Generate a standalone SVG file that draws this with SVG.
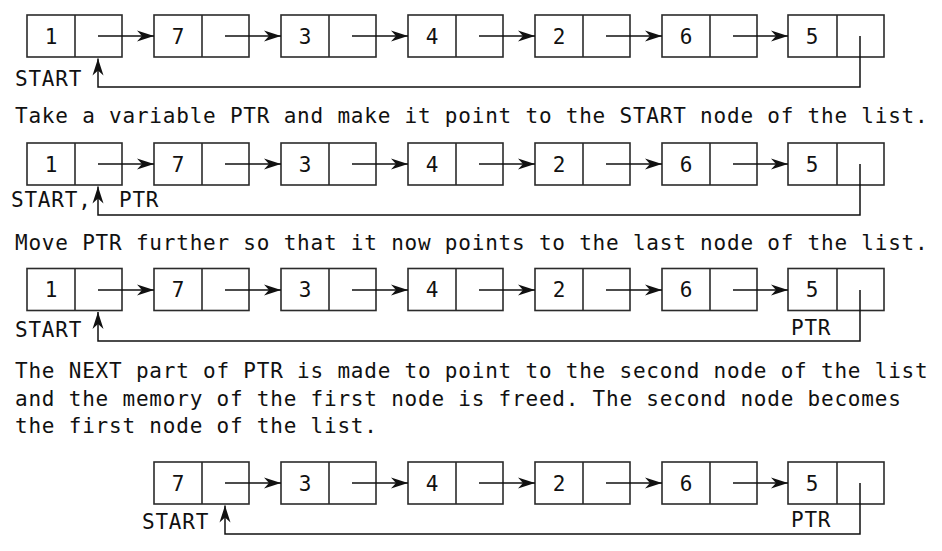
<svg xmlns="http://www.w3.org/2000/svg" width="942" height="551" viewBox="0 0 942 551">
<style>
  .bg{fill:#ffffff}
  .cell{fill:#ffffff;stroke:#2b2b2b;stroke-width:1.6}
  .div{stroke:#2b2b2b;stroke-width:1.6}
  .t{font-family:"DejaVu Sans Mono","Liberation Mono",monospace;font-size:21px;letter-spacing:0.79px;fill:#111}
  .d{font-family:"DejaVu Sans Mono","Liberation Mono",monospace;font-size:21px;fill:#111;text-anchor:middle}
  .c{fill:none;stroke:#111;stroke-width:1.5}
</style>
<defs>
  <marker id="ah" viewBox="-18 -7 19 14" refX="0" refY="0" markerWidth="19" markerHeight="14" orient="auto" markerUnits="userSpaceOnUse">
    <path d="M0,0 L-17,-5.5 L-12,0 L-17,5.5 Z" fill="#111"/>
  </marker>
</defs>
<rect class="bg" x="0" y="0" width="942" height="551"/>

<!-- Row 1 -->
<g id="r1n1"><rect class="cell" x="27" y="15" width="95" height="42"/><line class="div" x1="75" y1="15" x2="75" y2="57"/><text class="d" x="51" y="43.5">1</text></g>
<g id="r1n2"><rect class="cell" x="154" y="15" width="95" height="42"/><line class="div" x1="202" y1="15" x2="202" y2="57"/><text class="d" x="178" y="43.5">7</text></g>
<g id="r1n3"><rect class="cell" x="281" y="15" width="95" height="42"/><line class="div" x1="329" y1="15" x2="329" y2="57"/><text class="d" x="305" y="43.5">3</text></g>
<g id="r1n4"><rect class="cell" x="408" y="15" width="95" height="42"/><line class="div" x1="456" y1="15" x2="456" y2="57"/><text class="d" x="432" y="43.5">4</text></g>
<g id="r1n5"><rect class="cell" x="535" y="15" width="95" height="42"/><line class="div" x1="583" y1="15" x2="583" y2="57"/><text class="d" x="559" y="43.5">2</text></g>
<g id="r1n6"><rect class="cell" x="662" y="15" width="95" height="42"/><line class="div" x1="710" y1="15" x2="710" y2="57"/><text class="d" x="686" y="43.5">6</text></g>
<g id="r1n7"><rect class="cell" x="788" y="15" width="96" height="42"/><line class="div" x1="837" y1="15" x2="837" y2="57"/><text class="d" x="812" y="43.5">5</text></g>
<text class="t" x="15" y="86">START</text>
<text class="t" x="15" y="122.5">Take a variable PTR and make it point to the START node of the list.</text>

<!-- Row 2 -->
<g id="r2n1"><rect class="cell" x="27" y="143" width="95" height="42"/><line class="div" x1="75" y1="143" x2="75" y2="185"/><text class="d" x="51" y="171.5">1</text></g>
<g id="r2n2"><rect class="cell" x="154" y="143" width="95" height="42"/><line class="div" x1="202" y1="143" x2="202" y2="185"/><text class="d" x="178" y="171.5">7</text></g>
<g id="r2n3"><rect class="cell" x="281" y="143" width="95" height="42"/><line class="div" x1="329" y1="143" x2="329" y2="185"/><text class="d" x="305" y="171.5">3</text></g>
<g id="r2n4"><rect class="cell" x="408" y="143" width="95" height="42"/><line class="div" x1="456" y1="143" x2="456" y2="185"/><text class="d" x="432" y="171.5">4</text></g>
<g id="r2n5"><rect class="cell" x="535" y="143" width="95" height="42"/><line class="div" x1="583" y1="143" x2="583" y2="185"/><text class="d" x="559" y="171.5">2</text></g>
<g id="r2n6"><rect class="cell" x="662" y="143" width="95" height="42"/><line class="div" x1="710" y1="143" x2="710" y2="185"/><text class="d" x="686" y="171.5">6</text></g>
<g id="r2n7"><rect class="cell" x="788" y="143" width="96" height="42"/><line class="div" x1="837" y1="143" x2="837" y2="185"/><text class="d" x="812" y="171.5">5</text></g>
<text class="t" x="11" y="206.5">START,</text>
<text class="t" x="119" y="206.5">PTR</text>
<text class="t" x="15" y="249.5">Move PTR further so that it now points to the last node of the list.</text>

<!-- Row 3 -->
<g id="r3n1"><rect class="cell" x="27" y="268.5" width="95" height="42"/><line class="div" x1="75" y1="268.5" x2="75" y2="310.5"/><text class="d" x="51" y="297">1</text></g>
<g id="r3n2"><rect class="cell" x="154" y="268.5" width="95" height="42"/><line class="div" x1="202" y1="268.5" x2="202" y2="310.5"/><text class="d" x="178" y="297">7</text></g>
<g id="r3n3"><rect class="cell" x="281" y="268.5" width="95" height="42"/><line class="div" x1="329" y1="268.5" x2="329" y2="310.5"/><text class="d" x="305" y="297">3</text></g>
<g id="r3n4"><rect class="cell" x="408" y="268.5" width="95" height="42"/><line class="div" x1="456" y1="268.5" x2="456" y2="310.5"/><text class="d" x="432" y="297">4</text></g>
<g id="r3n5"><rect class="cell" x="535" y="268.5" width="95" height="42"/><line class="div" x1="583" y1="268.5" x2="583" y2="310.5"/><text class="d" x="559" y="297">2</text></g>
<g id="r3n6"><rect class="cell" x="662" y="268.5" width="95" height="42"/><line class="div" x1="710" y1="268.5" x2="710" y2="310.5"/><text class="d" x="686" y="297">6</text></g>
<g id="r3n7"><rect class="cell" x="788" y="268.5" width="96" height="42"/><line class="div" x1="837" y1="268.5" x2="837" y2="310.5"/><text class="d" x="812" y="297">5</text></g>
<text class="t" x="15" y="337">START</text>
<text class="t" x="791" y="335">PTR</text>
<text class="t" x="15" y="378">The NEXT part of PTR is made to point to the second node of the list</text>
<text class="t" x="15" y="405.5">and the memory of the first node is freed. The second node becomes</text>
<text class="t" x="15" y="433">the first node of the list.</text>

<!-- Row 4 -->
<g id="r4n1"><rect class="cell" x="154" y="462" width="95" height="42"/><line class="div" x1="202" y1="462" x2="202" y2="504"/><text class="d" x="178" y="490.5">7</text></g>
<g id="r4n2"><rect class="cell" x="281" y="462" width="95" height="42"/><line class="div" x1="329" y1="462" x2="329" y2="504"/><text class="d" x="305" y="490.5">3</text></g>
<g id="r4n3"><rect class="cell" x="408" y="462" width="95" height="42"/><line class="div" x1="456" y1="462" x2="456" y2="504"/><text class="d" x="432" y="490.5">4</text></g>
<g id="r4n4"><rect class="cell" x="535" y="462" width="95" height="42"/><line class="div" x1="583" y1="462" x2="583" y2="504"/><text class="d" x="559" y="490.5">2</text></g>
<g id="r4n5"><rect class="cell" x="662" y="462" width="95" height="42"/><line class="div" x1="710" y1="462" x2="710" y2="504"/><text class="d" x="686" y="490.5">6</text></g>
<g id="r4n6"><rect class="cell" x="788" y="462" width="96" height="42"/><line class="div" x1="837" y1="462" x2="837" y2="504"/><text class="d" x="812" y="490.5">5</text></g>
<text class="t" x="142" y="529">START</text>
<text class="t" x="791" y="527">PTR</text>

<g id="connectors">
  <!-- row 1 -->
  <path class="c" d="M98,36 H154" marker-end="url(#ah)"/>
  <path class="c" d="M225,36 H281" marker-end="url(#ah)"/>
  <path class="c" d="M352,36 H408" marker-end="url(#ah)"/>
  <path class="c" d="M479,36 H535" marker-end="url(#ah)"/>
  <path class="c" d="M606,36 H662" marker-end="url(#ah)"/>
  <path class="c" d="M733,36 H788" marker-end="url(#ah)"/>
  <path class="c" d="M860,36 V87 H98 V58.5" marker-end="url(#ah)"/>
  <!-- row 2 -->
  <path class="c" d="M98,164 H154" marker-end="url(#ah)"/>
  <path class="c" d="M225,164 H281" marker-end="url(#ah)"/>
  <path class="c" d="M352,164 H408" marker-end="url(#ah)"/>
  <path class="c" d="M479,164 H535" marker-end="url(#ah)"/>
  <path class="c" d="M606,164 H662" marker-end="url(#ah)"/>
  <path class="c" d="M733,164 H788" marker-end="url(#ah)"/>
  <path class="c" d="M860,164 V215 H98 V186.5" marker-end="url(#ah)"/>
  <!-- row 3 -->
  <path class="c" d="M98,290 H154" marker-end="url(#ah)"/>
  <path class="c" d="M225,290 H281" marker-end="url(#ah)"/>
  <path class="c" d="M352,290 H408" marker-end="url(#ah)"/>
  <path class="c" d="M479,290 H535" marker-end="url(#ah)"/>
  <path class="c" d="M606,290 H662" marker-end="url(#ah)"/>
  <path class="c" d="M733,290 H788" marker-end="url(#ah)"/>
  <path class="c" d="M860,290 V341 H98 V312" marker-end="url(#ah)"/>
  <!-- row 4 -->
  <path class="c" d="M225,483 H281" marker-end="url(#ah)"/>
  <path class="c" d="M352,483 H408" marker-end="url(#ah)"/>
  <path class="c" d="M479,483 H535" marker-end="url(#ah)"/>
  <path class="c" d="M606,483 H662" marker-end="url(#ah)"/>
  <path class="c" d="M733,483 H788" marker-end="url(#ah)"/>
  <path class="c" d="M860,483 V534 H225 V505.5" marker-end="url(#ah)"/>
</g>
</svg>
